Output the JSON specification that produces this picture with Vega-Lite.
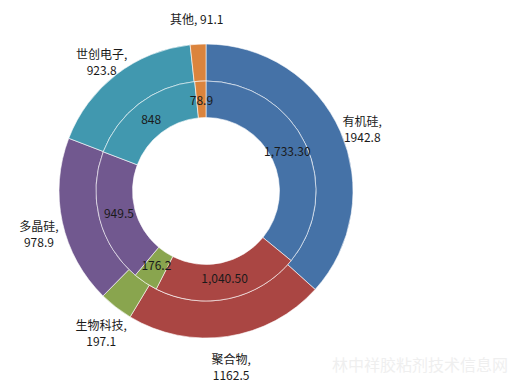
{
  "$schema": "https://vega.github.io/schema/vega-lite/v6.json",
  "width": 412,
  "height": 382,
  "padding": {"left": 0, "top": 0, "right": 98, "bottom": 0},
  "autosize": {"type": "none"},
  "background": "white",
  "config": {"view": {"stroke": null}},
  "title": {
    "text": "林中祥胶粘剂技术信息网",
    "orient": "bottom",
    "anchor": "end",
    "offset": -24,
    "dx": 96,
    "color": "#efefef",
    "fontSize": 16,
    "fontWeight": "normal",
    "font": "Noto Sans CJK SC"
  },
  "datasets": {
    "outer": [
      {"name": "有机硅", "value": 1942.8, "k": 1, "label": "有机硅,\n1942.8"},
      {"name": "聚合物", "value": 1162.5, "k": 2, "label": "聚合物,\n1162.5"},
      {"name": "生物科技", "value": 197.1, "k": 3, "label": "生物科技,\n197.1"},
      {"name": "多晶硅", "value": 978.9, "k": 4, "label": "多晶硅,\n978.9"},
      {"name": "世创电子", "value": 923.8, "k": 5, "label": "世创电子,\n923.8"},
      {"name": "其他", "value": 91.1, "k": 6, "label": "其他, 91.1"}
    ],
    "inner": [
      {"name": "有机硅", "value": 1733.3, "k": 1, "label": "1,733.30"},
      {"name": "聚合物", "value": 1040.5, "k": 2, "label": "1,040.50"},
      {"name": "生物科技", "value": 176.2, "k": 3, "label": "176.2"},
      {"name": "多晶硅", "value": 949.5, "k": 4, "label": "949.5"},
      {"name": "世创电子", "value": 848, "k": 5, "label": "848"},
      {"name": "其他", "value": 78.9, "k": 6, "label": "78.9"}
    ]
  },
  "layer": [
    {
      "data": {"name": "outer"},
      "mark": {"type": "arc", "radius": 147, "radius2": 110, "stroke": "white", "strokeWidth": 0.6},
      "encoding": {
        "theta": {"field": "value", "type": "quantitative", "stack": true},
        "order": {"field": "k", "type": "quantitative"},
        "color": {
          "field": "name", "type": "nominal", "legend": null,
          "scale": {
            "domain": ["有机硅", "聚合物", "生物科技", "多晶硅", "世创电子", "其他"],
            "range": ["#4572A7", "#AA4643", "#89A54E", "#71588F", "#4198AF", "#DB843D"]
          }
        }
      }
    },
    {
      "data": {"name": "inner"},
      "mark": {"type": "arc", "radius": 110, "radius2": 73.5, "stroke": "white", "strokeWidth": 0.6},
      "encoding": {
        "theta": {"field": "value", "type": "quantitative", "stack": true},
        "order": {"field": "k", "type": "quantitative"},
        "color": {"field": "name", "type": "nominal", "legend": null}
      }
    },
    {
      "data": {"name": "outer"},
      "mark": {"type": "text", "radius": 171, "lineBreak": "\n", "font": "Noto Sans CJK SC", "fontSize": 12, "color": "#1a1a1a", "lineHeight": 16},
      "encoding": {
        "theta": {"field": "value", "type": "quantitative", "stack": true},
        "order": {"field": "k", "type": "quantitative"},
        "text": {"field": "label"}
      }
    },
    {
      "data": {"name": "inner"},
      "mark": {"type": "text", "radius": 90, "font": "Noto Sans CJK SC", "fontSize": 12, "color": "#1a1a1a"},
      "encoding": {
        "theta": {"field": "value", "type": "quantitative", "stack": true},
        "order": {"field": "k", "type": "quantitative"},
        "text": {"field": "label"}
      }
    }
  ],
  "resolve": {"scale": {"theta": "independent"}}
}
